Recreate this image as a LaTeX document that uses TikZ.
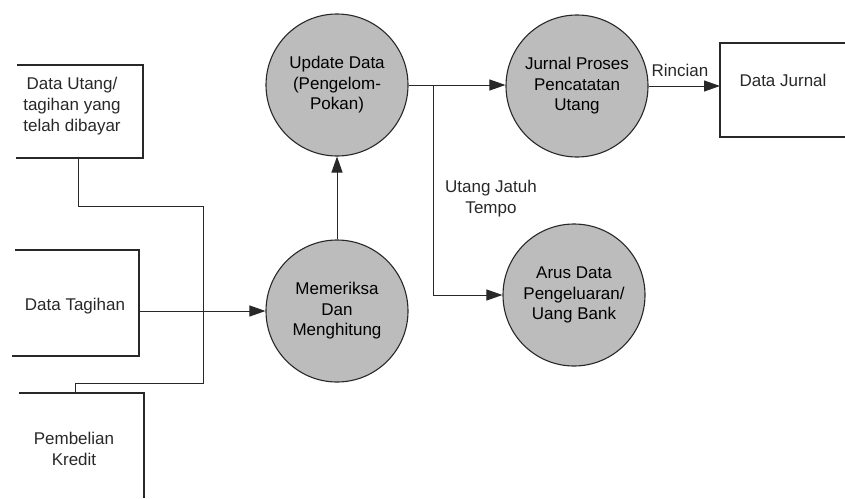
\documentclass[tikz,border=0pt]{standalone}
\usepackage{fontspec}
\setmainfont{Liberation Sans}
\usetikzlibrary{arrows.meta}
\definecolor{procfill}{RGB}{188,188,188}
\definecolor{ink}{RGB}{40,40,40}
\begin{document}
\begin{tikzpicture}[x=1pt,y=-1pt,
  line width=1pt, draw=ink,
  proc/.style={circle, draw=ink, line width=1.1pt, fill=procfill, minimum size=142pt, inner sep=0pt, align=center, font=\fontsize{17}{20.5}\selectfont},
  lbl/.style={align=center, font=\fontsize{17}{21}\selectfont, inner sep=0pt, text=ink},
  boxline/.style={draw=ink, line width=1.1pt},
  flow/.style={draw=ink, line width=1pt, -{Triangle[length=16pt,width=11pt,fill=ink]}},
  wire/.style={draw=ink, line width=1pt}]
\useasboundingbox (0,0) rectangle (845,498);

% external entities (open boxes)
\draw[boxline] (17,65) -- (143,65) -- (143,158) -- (16,158);
\node[lbl] (utang) at (72,106) {Data Utang/\\tagihan yang\\telah dibayar};

\draw[boxline] (15,250) -- (139,250) -- (139,356) -- (12,356);
\node[lbl] (tagihan) at (75,306) {Data Tagihan};

\draw[boxline] (19,393) -- (144,393) -- (144,498);
\node[lbl] (kredit) at (74,449) {Pembelian\\Kredit};

\draw[boxline] (845,43) -- (720,43) -- (720,137) -- (845,137);
\node[lbl] (djurnal) at (783,80) {Data Jurnal};

% processes
\node[proc] (upd) at (337,85) {Update Data\\(Pengelom-\\Pokan)};
\node[proc] (mem) at (337,311) {Memeriksa\\Dan\\Menghitung};
\node[proc] (jur) at (577,86) {Jurnal Proses\\Pencatatan\\Utang};
\node[proc] (arus) at (574,295) {Arus Data\\Pengeluaran/\\Uang Bank};

% connectors
\coordinate (u1) at (78,158);
\coordinate (k1) at (75,393);
\draw[wire] (u1) -- (78,206) -- (203,206) -- (203,383) -- (75,383) -- (k1);

\coordinate (t1) at (139,311);
\draw[flow] (t1) -- (mem.west);

\draw[flow] (mem.north) -- (upd.south);

\draw[flow] (upd.east) -- (upd.east -| jur.west);

\coordinate (br) at (433,85);
\draw[flow] (br) -- (br |- arus.west) -- (arus.west);

\coordinate (dj) at (720,86);
\draw[flow] (jur.east) -- (dj);

\node[lbl] (rincian) at (680,70) {Rincian};
\node[lbl] (jatuh) at (491,199) {Utang Jatuh\\Tempo};
\end{tikzpicture}
\end{document}
